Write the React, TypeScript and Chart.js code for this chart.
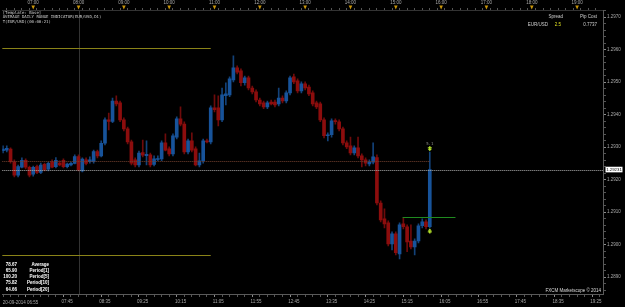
import React, { useEffect, useRef } from "react";
import { Chart, registerables } from "chart.js";

Chart.register(...registerables);

// ---- data ----
const candleTimes = [
  "06:20","06:25","06:30","06:35","06:40","06:45","06:50","06:55",
  "07:00","07:05","07:10","07:15","07:20","07:25","07:30","07:35","07:40","07:45","07:50","07:55",
  "08:00","08:05","08:10","08:15","08:20","08:25","08:30","08:35","08:40","08:45","08:50","08:55",
  "09:00","09:05","09:10","09:15","09:20","09:25","09:30","09:35","09:40","09:45","09:50","09:55",
  "10:00","10:05","10:10","10:15","10:20","10:25","10:30","10:35","10:40","10:45","10:50","10:55",
  "11:00","11:05","11:10","11:15","11:20","11:25","11:30","11:35","11:40","11:45","11:50","11:55",
  "12:00","12:05","12:10","12:15","12:20","12:25","12:30","12:35","12:40","12:45","12:50","12:55",
  "13:00","13:05","13:10","13:15","13:20","13:25","13:30","13:35","13:40","13:45","13:50","13:55",
  "14:00","14:05","14:10","14:15","14:20","14:25","14:30","14:35","14:40","14:45","14:50","14:55",
  "15:00","15:05","15:10","15:15","15:20","15:25","15:30","15:35","15:40","15:45"
];

const openPrices = [
  1.29289, 1.29291, 1.29294, 1.29255, 1.29214, 1.29238, 1.29259, 1.29238, 1.29217, 1.29240,
  1.29222, 1.29247, 1.29232, 1.29255, 1.29240, 1.29251, 1.29259, 1.29240, 1.29245, 1.29250,
  1.29271, 1.29227, 1.29261, 1.29255, 1.29255, 1.29286, 1.29273, 1.29312, 1.29384, 1.29379,
  1.29442, 1.29436, 1.29384, 1.29356, 1.29316, 1.29261, 1.29245, 1.29283, 1.29274, 1.29276,
  1.29247, 1.29262, 1.29264, 1.29313, 1.29295, 1.29279, 1.29331, 1.29387, 1.29371, 1.29285,
  1.29319, 1.29295, 1.29245, 1.29258, 1.29319, 1.29316, 1.29421, 1.29421, 1.29384, 1.29458,
  1.29461, 1.29507, 1.29544, 1.29535, 1.29498, 1.29513, 1.29482, 1.29470, 1.29445, 1.29436,
  1.29424, 1.29439, 1.29439, 1.29433, 1.29451, 1.29442, 1.29467, 1.29516, 1.29504, 1.29473,
  1.29495, 1.29485, 1.29467, 1.29436, 1.29433, 1.29384, 1.29335, 1.29338, 1.29382, 1.29378,
  1.29356, 1.29313, 1.29304, 1.29282, 1.29298, 1.29273, 1.29261, 1.29248, 1.29254, 1.29268,
  1.29128, 1.29079, 1.29067, 1.29002, 1.29033, 1.28971, 1.29064, 1.29055, 1.29011, 1.28993,
  1.29011, 1.29058, 1.29070, 1.29055
];

const highPrices = [
  1.29304, 1.29304, 1.29298, 1.29261, 1.29245, 1.29267, 1.29264, 1.29242, 1.29242, 1.29245,
  1.29251, 1.29251, 1.29254, 1.29261, 1.29268, 1.29258, 1.29264, 1.29251, 1.29254, 1.29276,
  1.29276, 1.29267, 1.29267, 1.29270, 1.29291, 1.29291, 1.29319, 1.29390, 1.29405, 1.29451,
  1.29458, 1.29442, 1.29390, 1.29362, 1.29322, 1.29267, 1.29288, 1.29322, 1.29319, 1.29282,
  1.29273, 1.29273, 1.29319, 1.29341, 1.29301, 1.29341, 1.29393, 1.29424, 1.29378, 1.29325,
  1.29344, 1.29301, 1.29282, 1.29325, 1.29325, 1.29427, 1.29461, 1.29458, 1.29482, 1.29498,
  1.29516, 1.29581, 1.29550, 1.29541, 1.29519, 1.29519, 1.29488, 1.29476, 1.29451, 1.29442,
  1.29442, 1.29445, 1.29445, 1.29482, 1.29458, 1.29473, 1.29519, 1.29525, 1.29510, 1.29501,
  1.29501, 1.29491, 1.29473, 1.29442, 1.29439, 1.29390, 1.29344, 1.29387, 1.29387, 1.29384,
  1.29362, 1.29319, 1.29331, 1.29304, 1.29331, 1.29279, 1.29267, 1.29261, 1.29313, 1.29276,
  1.29135, 1.29110, 1.29073, 1.29039, 1.29039, 1.29067, 1.29082, 1.29061, 1.29061, 1.29018,
  1.29064, 1.29079, 1.29076, 1.29285
];

const lowPrices = [
  1.29282, 1.29285, 1.29251, 1.29208, 1.29208, 1.29236, 1.29233, 1.29208, 1.29211, 1.29218,
  1.29218, 1.29227, 1.29227, 1.29236, 1.29236, 1.29242, 1.29236, 1.29236, 1.29242, 1.29248,
  1.29227, 1.29224, 1.29245, 1.29251, 1.29251, 1.29267, 1.29270, 1.29307, 1.29353, 1.29375,
  1.29427, 1.29378, 1.29350, 1.29310, 1.29245, 1.29239, 1.29239, 1.29270, 1.29245, 1.29239,
  1.29242, 1.29258, 1.29258, 1.29288, 1.29273, 1.29273, 1.29325, 1.29365, 1.29279, 1.29279,
  1.29285, 1.29242, 1.29239, 1.29251, 1.29313, 1.29310, 1.29408, 1.29365, 1.29378, 1.29430,
  1.29455, 1.29501, 1.29525, 1.29488, 1.29491, 1.29476, 1.29464, 1.29439, 1.29427, 1.29418,
  1.29418, 1.29430, 1.29424, 1.29427, 1.29436, 1.29436, 1.29461, 1.29495, 1.29467, 1.29467,
  1.29476, 1.29458, 1.29427, 1.29418, 1.29378, 1.29328, 1.29319, 1.29331, 1.29371, 1.29350,
  1.29307, 1.29295, 1.29276, 1.29276, 1.29267, 1.29239, 1.29242, 1.29242, 1.29248, 1.29122,
  1.29070, 1.29051, 1.28996, 1.28984, 1.28968, 1.28956, 1.29048, 1.28978, 1.28987, 1.28968,
  1.29005, 1.29051, 1.29048, 1.29051
];

const closePrices = [
  1.29294, 1.29296, 1.29255, 1.29214, 1.29240, 1.29259, 1.29238, 1.29214, 1.29238, 1.29222,
  1.29245, 1.29230, 1.29250, 1.29238, 1.29259, 1.29245, 1.29240, 1.29248, 1.29250, 1.29271,
  1.29230, 1.29263, 1.29250, 1.29261, 1.29286, 1.29273, 1.29312, 1.29384, 1.29379, 1.29442,
  1.29433, 1.29384, 1.29356, 1.29316, 1.29251, 1.29245, 1.29282, 1.29275, 1.29278, 1.29245,
  1.29264, 1.29265, 1.29313, 1.29291, 1.29279, 1.29335, 1.29387, 1.29371, 1.29285, 1.29319,
  1.29291, 1.29245, 1.29258, 1.29319, 1.29316, 1.29421, 1.29415, 1.29384, 1.29461, 1.29464,
  1.29510, 1.29544, 1.29531, 1.29498, 1.29513, 1.29482, 1.29470, 1.29445, 1.29433, 1.29424,
  1.29436, 1.29433, 1.29430, 1.29451, 1.29442, 1.29467, 1.29513, 1.29501, 1.29473, 1.29495,
  1.29482, 1.29464, 1.29433, 1.29424, 1.29384, 1.29335, 1.29338, 1.29381, 1.29378, 1.29356,
  1.29313, 1.29301, 1.29282, 1.29298, 1.29273, 1.29261, 1.29251, 1.29254, 1.29270, 1.29128,
  1.29076, 1.29064, 1.29002, 1.29033, 1.28975, 1.29061, 1.29055, 1.29008, 1.28993, 1.29011,
  1.29058, 1.29070, 1.29055, 1.29231
];

const bottomTickLabels = [
  "20-09-2014 06:55","07:45","08:35","09:25","10:15","11:05","11:55","12:45",
  "13:35","14:25","15:15","16:05","16:55","17:45","18:35","19:25"
];
const topTickLabels = [
  "07:00","08:00","09:00","10:00","11:00","12:00","13:00",
  "14:00","15:00","16:00","17:00","18:00","19:00"
];
const priceTickLabels = [
  "1.2890","1.2900","1.2910","1.2920","1.2930","1.2940","1.2950","1.2960","1.2970"
];

const currentPrice = 1.29231;
const openLinePrice = 1.29257;
const adrHighPrice = 1.29605;
const adrLowPrice = 1.28968;
const adrEndTime = "10:55";
const supportPrice = 1.29084;
const supportSpan = ["15:09", "16:19"];
const sessionMarkTime = "08:00";
const signalTime = "15:45";
const signalDownPrice = 1.29295;
const signalUpPrice = 1.29042;
const signalText = "5.1";

const headerLines = [
  "[Template: Base]",
  "AVERAGE DAILY RANGE INDICATOR(EUR/USD,D1)",
  "T(EUR/USD)(00:00:21)"
];
const adrValues = ["78.67", "65.90", "100.20", "75.82", "64.66"];
const adrNames = ["Average", "Period[1]", "Period[5]", "Period[10]", "Period[20]"];
const symbolName = "EUR/USD";
const spreadValue = "2.5";
const pipCostValue = "0.7737";
const copyrightText = "FXCM Marketscope \u00A9 2014";

// view window (minutes of day) and price range
const viewStart = 379.1;
const viewEnd = 1174.3;
const priceMin = 1.28848;
const priceMax = 1.29722;

// ---- helpers ----
const toMin = (s: string) => {
  const t = s.slice(-5).split(":").map(Number);
  return t[0] * 60 + t[1];
};

const BLUE = "#17539a";
const RED = "#8c0d0d";
const BLUE_W = "#134279";
const RED_W = "#6e0b0b";
const AXIS_FONT = { family: "'Liberation Sans', Arial, sans-serif", size: 4.5 };

const bottomMajor = new Map<number, string>();
bottomTickLabels.forEach((l, i) => bottomMajor.set(toMin(l), i === 0 ? "" : l));
const topMajor = new Map<number, string>();
topTickLabels.forEach((l) => topMajor.set(toMin(l), l));
const priceMajor = priceTickLabels.map((l) => ({ v: parseFloat(l), l }));

const bottomTicks: number[] = [];
for (let m = 385; m <= viewEnd; m += 10) bottomTicks.push(m);
const topTicks: number[] = [];
for (let m = 380; m <= viewEnd; m += 10) topTicks.push(m);
const priceTicks: number[] = [];
for (let k = 0; k <= 43; k++) priceTicks.push(Math.round((1.2886 + k * 0.0002) * 1e5) / 1e5);

const priceLabel = (v: number) => {
  const f = priceMajor.find((p) => Math.abs(p.v - v) < 1e-7);
  return f ? f.l : "";
};

const overlayPlugin = {
  id: "overlayPlugin",
  beforeDatasetsDraw(chart: any) {
    const { ctx, chartArea: a, scales } = chart;
    const x = scales.x, y = scales.y;
    ctx.save();
    ctx.lineWidth = 1;
    // session separator
    const sx = Math.round(x.getPixelForValue(toMin(sessionMarkTime))) + 0.5;
    ctx.strokeStyle = "#333333";
    ctx.beginPath();
    ctx.moveTo(sx, a.top);
    ctx.lineTo(sx, a.bottom);
    ctx.stroke();
    // ADR lines
    ctx.strokeStyle = "#8a8318";
    const ex = x.getPixelForValue(toMin(adrEndTime));
    [adrHighPrice, adrLowPrice].forEach((p) => {
      const py = Math.round(y.getPixelForValue(p)) + 0.5;
      ctx.beginPath();
      ctx.moveTo(a.left, py);
      ctx.lineTo(ex, py);
      ctx.stroke();
    });
    ctx.restore();
  },
  afterDatasetsDraw(chart: any) {
    const { ctx, chartArea: a, scales } = chart;
    const x = scales.x, y = scales.y;
    ctx.save();
    ctx.lineWidth = 1;
    ctx.setLineDash([1, 1]);
    // open line (brown dotted)
    const lastX = x.getPixelForValue(toMin(candleTimes[candleTimes.length - 1]));
    let py = Math.round(y.getPixelForValue(openLinePrice)) + 0.5;
    ctx.strokeStyle = "#74402f";
    ctx.beginPath();
    ctx.moveTo(a.left, py);
    ctx.lineTo(lastX, py);
    ctx.stroke();
    // current price (grey dotted)
    py = Math.round(y.getPixelForValue(currentPrice)) + 0.5;
    ctx.strokeStyle = "#b0b0b0";
    ctx.beginPath();
    ctx.moveTo(a.left, py);
    ctx.lineTo(a.right, py);
    ctx.stroke();
    ctx.setLineDash([]);
    // support line
    py = Math.round(y.getPixelForValue(supportPrice)) + 0.5;
    ctx.strokeStyle = "#1f8a1f";
    ctx.beginPath();
    ctx.moveTo(x.getPixelForValue(toMin(supportSpan[0])), py);
    ctx.lineTo(x.getPixelForValue(toMin(supportSpan[1])), py);
    ctx.stroke();
    // signal arrows
    const ax = x.getPixelForValue(toMin(signalTime));
    ctx.fillStyle = "#b4e22a";
    const dy = y.getPixelForValue(signalDownPrice);
    ctx.fillRect(ax - 0.75, dy - 2.5, 1.5, 3);
    ctx.fillRect(ax - 2, dy - 1.5, 4, 1.2);
    ctx.beginPath();
    ctx.moveTo(ax - 2, dy + 0.3);
    ctx.lineTo(ax + 2, dy + 0.3);
    ctx.lineTo(ax, dy + 2.5);
    ctx.closePath();
    ctx.fill();
    const uy = y.getPixelForValue(signalUpPrice);
    ctx.fillRect(ax - 0.75, uy - 0.5, 1.5, 3);
    ctx.fillRect(ax - 2, uy + 0.3, 4, 1.2);
    ctx.beginPath();
    ctx.moveTo(ax - 2, uy - 0.3);
    ctx.lineTo(ax + 2, uy - 0.3);
    ctx.lineTo(ax, uy - 2.5);
    ctx.closePath();
    ctx.fill();
    ctx.fillStyle = "#8c8c8c";
    ctx.font = "4px 'DejaVu Sans Mono', monospace";
    ctx.textAlign = "center";
    ctx.textBaseline = "middle";
    ctx.fillText(signalText, ax, dy - 5);
    ctx.restore();
  },
  afterDraw(chart: any) {
    const { ctx, chartArea: a, scales } = chart;
    const x = scales.x, y = scales.y, xt = scales.xTop;
    ctx.save();
    // orange hour markers
    ctx.fillStyle = "#c9960c";
    topTickLabels.forEach((l) => {
      const px = xt.getPixelForValue(toMin(l));
      ctx.beginPath();
      ctx.moveTo(px - 1.8, 5.5);
      ctx.lineTo(px + 1.8, 5.5);
      ctx.lineTo(px, 9.5);
      ctx.closePath();
      ctx.fill();
    });
    // first bottom label (date), left aligned
    ctx.fillStyle = "#a8a8a8";
    ctx.font = "4.5px 'Liberation Sans', Arial, sans-serif";
    ctx.textBaseline = "middle";
    ctx.textAlign = "left";
    ctx.fillText(bottomTickLabels[0], a.left + 0.5, 302.5);
    // header text
    ctx.fillStyle = "#cfcfcf";
    ctx.font = "4px 'DejaVu Sans Mono', monospace";
    headerLines.forEach((t, i) => ctx.fillText(t, 2.7, 12.5 + i * 4.5));
    // spread / pip cost panel
    ctx.font = "4.5px 'Liberation Sans', Arial, sans-serif";
    ctx.textAlign = "right";
    ctx.fillStyle = "#cfcfcf";
    ctx.fillText("Spread", 563, 16.5);
    ctx.fillText("Pip Cost", 597, 16.5);
    ctx.fillText(symbolName, 548, 24.5);
    ctx.fillText(pipCostValue, 597, 24.5);
    ctx.fillStyle = "#e0e020";
    ctx.fillText(spreadValue, 561, 24.5);
    // ADR table
    ctx.fillStyle = "#ffffff";
    ctx.font = "bold 4.5px 'Liberation Sans', Arial, sans-serif";
    adrValues.forEach((v, i) => {
      const ty = 264.3 + i * 6.3;
      ctx.fillText(v, 17, ty);
      ctx.fillText(adrNames[i], 49, ty);
    });
    // copyright
    ctx.font = "4.5px 'Liberation Sans', Arial, sans-serif";
    ctx.fillStyle = "#dddddd";
    ctx.fillText(copyrightText, 601, a.bottom - 3);
    // current price box
    const py = y.getPixelForValue(currentPrice);
    ctx.fillStyle = "#ffffff";
    ctx.fillRect(a.right + 2.5, py - 2.8, 17, 5.6);
    ctx.fillStyle = "#000000";
    ctx.font = "4.3px 'Liberation Sans', Arial, sans-serif";
    ctx.textAlign = "center";
    ctx.fillText(currentPrice.toFixed(5), a.right + 11, py + 0.2);
    ctx.restore();
  },
};

export default function App() {
  const ref = useRef<HTMLCanvasElement | null>(null);

  useEffect(() => {
    document.body.style.margin = "0";
    document.body.style.background = "#000";
    const canvas = ref.current;
    if (!canvas) return;

    const wickData = candleTimes.map((t, i) => ({ x: toMin(t), y: [lowPrices[i], highPrices[i]] }));
    const bodyData = candleTimes.map((t, i) => ({ x: toMin(t), y: [openPrices[i], closePrices[i]] }));
    const bodyColors = candleTimes.map((_, i) => (closePrices[i] >= openPrices[i] ? BLUE : RED));
    const wickColors = candleTimes.map((_, i) => (closePrices[i] >= openPrices[i] ? BLUE_W : RED_W));

    const chart = new Chart(canvas, {
      type: "bar",
      data: {
        datasets: [
          {
            label: "wick",
            data: wickData as any,
            backgroundColor: wickColors,
            barThickness: 1,
            grouped: false,
            order: 2,
          } as any,
          {
            label: "body",
            data: bodyData as any,
            backgroundColor: bodyColors,
            barThickness: 3,
            minBarLength: 1,
            grouped: false,
            order: 1,
          } as any,
        ],
      },
      options: {
        animation: false,
        responsive: true,
        maintainAspectRatio: false,
        events: [],
        layout: { padding: 0 },
        plugins: { legend: { display: false }, tooltip: { enabled: false } },
        scales: {
          x: {
            type: "linear",
            position: "bottom",
            min: viewStart,
            max: viewEnd,
            offset: false,
            afterBuildTicks: (s: any) => {
              s.ticks = bottomTicks.map((v) => ({ value: v }));
            },
            afterFit: (s: any) => {
              s.height = 13;
            },
            grid: {
              drawOnChartArea: false,
              drawTicks: true,
              tickLength: 3,
              tickColor: (c: any) => (c.tick && bottomMajor.has(c.tick.value) ? "#8a8a8a" : "#555555"),
            },
            border: { display: true, color: "#5a5a5a" },
            ticks: {
              autoSkip: false,
              maxRotation: 0,
              minRotation: 0,
              padding: 2,
              color: "#a8a8a8",
              font: AXIS_FONT,
              callback: (v: any) => bottomMajor.get(Number(v)) ?? "",
            },
          },
          xTop: {
            type: "linear",
            position: "top",
            min: viewStart,
            max: viewEnd,
            offset: false,
            afterBuildTicks: (s: any) => {
              s.ticks = topTicks.map((v) => ({ value: v }));
            },
            afterFit: (s: any) => {
              s.height = 10;
            },
            grid: {
              drawOnChartArea: false,
              drawTicks: true,
              tickLength: 2,
              tickColor: "#555555",
            },
            border: { display: true, color: "#333333" },
            ticks: {
              autoSkip: false,
              maxRotation: 0,
              minRotation: 0,
              padding: 3,
              color: "#a8a8a8",
              font: AXIS_FONT,
              callback: (v: any) => topMajor.get(Number(v)) ?? "",
            },
          },
          y: {
            type: "linear",
            position: "right",
            min: priceMin,
            max: priceMax,
            afterBuildTicks: (s: any) => {
              s.ticks = priceTicks.map((v) => ({ value: v }));
            },
            afterFit: (s: any) => {
              s.width = 22;
            },
            grid: {
              drawOnChartArea: false,
              drawTicks: true,
              tickLength: 3,
              tickColor: (c: any) => (c.tick && priceLabel(c.tick.value) ? "#8a8a8a" : "#555555"),
            },
            border: { display: true, color: "#5a5a5a" },
            ticks: {
              autoSkip: false,
              padding: 1,
              color: "#a8a8a8",
              font: AXIS_FONT,
              callback: (v: any) => priceLabel(Number(v)),
            },
          },
        },
      } as any,
      plugins: [overlayPlugin],
    });

    return () => chart.destroy();
  }, []);

  return (
    <div
      style={{
        position: "fixed",
        left: 0,
        top: 0,
        width: 625,
        height: 307,
        background: "#000",
      }}
    >
      <canvas ref={ref} />
    </div>
  );
}
